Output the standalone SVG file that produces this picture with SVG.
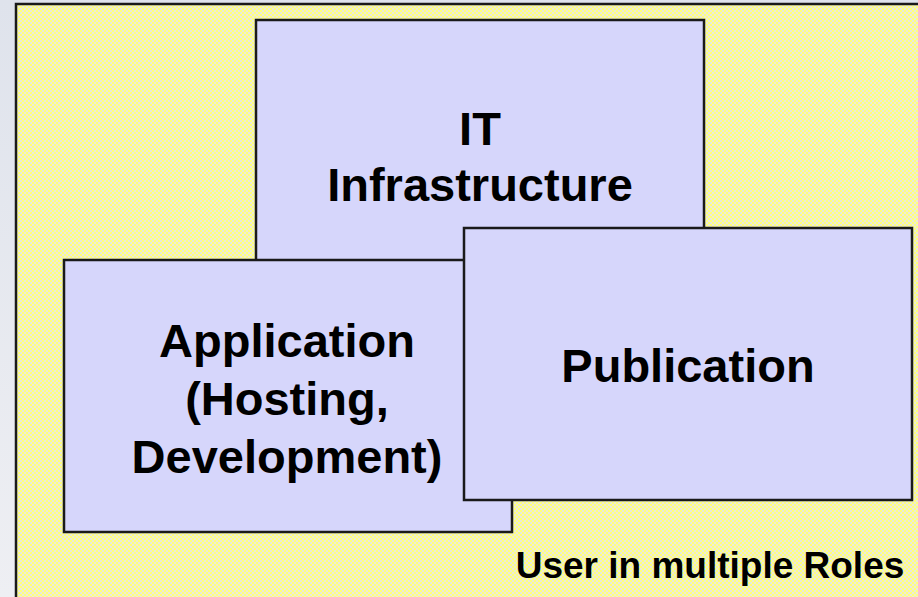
<svg xmlns="http://www.w3.org/2000/svg" width="918" height="597" viewBox="0 0 918 597">
  <defs>
    <pattern id="checker" x="0" y="0" width="4" height="4" patternUnits="userSpaceOnUse">
      <rect x="0" y="0" width="4" height="4" fill="#ffff7c"/>
      <rect x="0" y="0" width="2" height="2" fill="#ebebd8"/>
      <rect x="2" y="2" width="2" height="2" fill="#ebebd8"/>
    </pattern>
    <linearGradient id="bg" x1="0" y1="0" x2="0" y2="1">
      <stop offset="0" stop-color="#dfe3ec"/>
      <stop offset="1" stop-color="#eeeff3"/>
    </linearGradient>
  </defs>
  <style>
    .box { fill: #d6d6fb; stroke: #1a1a1a; stroke-width: 2.5; }
    .label { font-family: "Liberation Sans", Arial, sans-serif; font-weight: bold; fill: #000; text-anchor: middle; }
    .big { font-size: 47px; }
    .small { font-size: 37px; }
  </style>
  <rect x="0" y="0" width="918" height="597" fill="url(#bg)"/>
  <g id="frame">
    <rect x="16" y="4" width="920" height="620" fill="url(#checker)" stroke="#1a1a1a" stroke-width="2.5"/>
  </g>
  <g id="it-infrastructure">
    <rect class="box" x="256" y="20" width="448" height="260"/>
    <text class="label big" x="480" y="145">IT</text>
    <text class="label big" x="480" y="201">Infrastructure</text>
  </g>
  <g id="application">
    <rect class="box" x="64" y="260" width="448" height="272"/>
    <text class="label big" x="287" y="357">Application</text>
    <text class="label big" x="287" y="415">(Hosting,</text>
    <text class="label big" x="287" y="473">Development)</text>
  </g>
  <g id="publication">
    <rect class="box" x="464" y="228" width="448" height="272"/>
    <text class="label big" x="688" y="382">Publication</text>
  </g>
  <g id="caption">
    <text class="label small" x="710" y="578">User in multiple Roles</text>
  </g>
  <g id="connectors"/>
</svg>
